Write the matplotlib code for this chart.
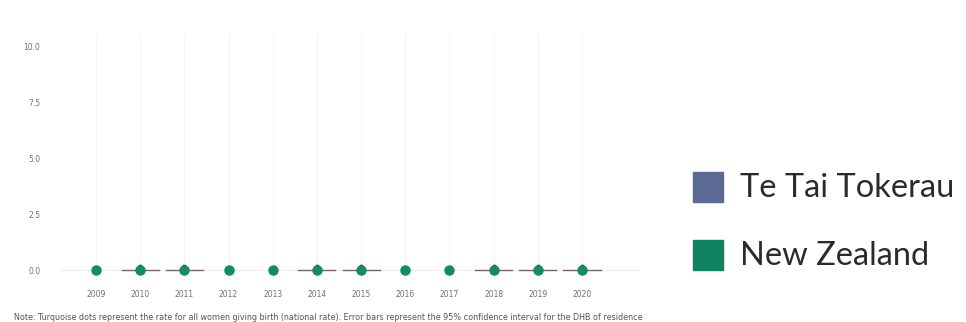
import numpy as np
import matplotlib
matplotlib.use("Agg")
import matplotlib.pyplot as plt
from matplotlib.patches import Rectangle

# --- data ---
years = [2009, 2010, 2011, 2012, 2013, 2014, 2015, 2016, 2017, 2018, 2019, 2020]
nz_rate = [0.0] * 12
# Te Tai Tokerau: rate and 95% CI upper bound (None = no value shown)
ttt_rate = [None, 0.0, 0.0, None, None, 0.0, 0.0, None, None, 0.0, 0.0, 0.0]
ttt_upper = [None, 0.2, 0.2, None, None, 0.2, 0.2, None, None, 0.2, 0.2, 0.2]
yticks = [0.0, 2.5, 5.0, 7.5, 10.0]
legend_names = ["Te Tai Tokerau", "New Zealand"]
legend_colors = ["#5b6a94", "#0f8262"]

NZ_GREEN = "#138b67"
W, H = 966, 322

fig = plt.figure(figsize=(W / 100, H / 100), dpi=100)
# axes placed in pixel coords
ax = fig.add_axes([60 / W, 1 - 280 / H, 580 / W, 245 / H])

# x: 2009 at px 96, 44.18 px per year
px_per_yr = 44.18
ax.set_xlim(2009 - 36 / px_per_yr, 2009 + 544 / px_per_yr)
ax.set_ylim(-10 / 22.4, 10 + 11 / 22.4)

# faint grid
for y in years:
    ax.axvline(y, color="#f3f3f3", lw=0.8, zorder=0)
ax.axhline(0, color="#ececec", lw=0.8, zorder=0)

# Te Tai Tokerau CI bars
for yr, r, up in zip(years, ttt_rate, ttt_upper):
    if r is None:
        continue
    ax.plot([yr - 0.42, yr + 0.42], [r, r], color="#7a6464", lw=1.0, zorder=2)
    ax.plot([yr, yr], [r, up], color="#3a3a3a", lw=2.5, zorder=3)

# national rate dots
ax.plot(years, nz_rate, "o", color=NZ_GREEN, ms=6.5, zorder=4, ls="none")

ax.set_xticks(years)
ax.set_xticklabels([str(y) for y in years])
ax.set_yticks(yticks)
ax.set_yticklabels([f"{v:.1f}" for v in yticks])
ax.tick_params(axis="both", length=0, labelsize=5.5, labelcolor="#707070")
ax.tick_params(axis="y", pad=14)
ax.tick_params(axis="x", pad=7)
for s in ax.spines.values():
    s.set_visible(False)

fig.text(14 / W, 1 - 317 / H,
         "Note: Turquoise dots represent the rate for all women giving birth (national rate). "
         "Error bars represent the 95% confidence interval for the DHB of residence",
         fontsize=5.8, color="#555555", va="center", ha="left")

# legend on the right
sq = 30
for i, (name, col) in enumerate(zip(legend_names, legend_colors)):
    top = 172 + i * 68
    fig.patches.append(Rectangle((693 / W, 1 - (top + sq) / H), sq / W, sq / H,
                                 transform=fig.transFigure, color=col))
    fig.text(740 / W, 1 - (top + sq / 2 + 1) / H, name, fontsize=23.5,
             family="Lato", color="#2b2b2b", va="center", ha="left")

fig.savefig("out.png", dpi=100)
